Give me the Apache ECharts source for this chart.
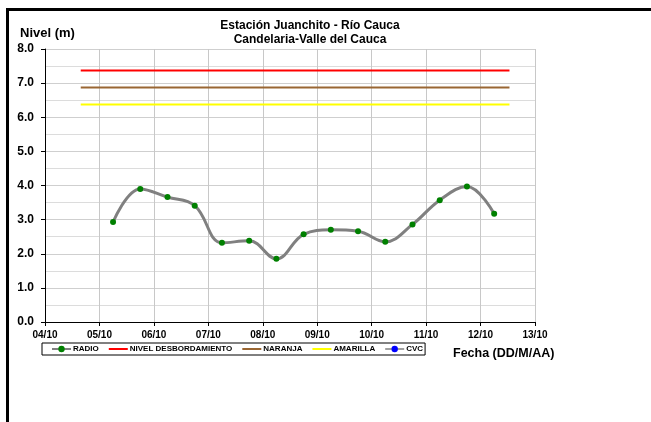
<!DOCTYPE html>
<html>
<head>
<meta charset="utf-8">
<script src="https://cdn.jsdelivr.net/npm/echarts@6/dist/echarts.min.js"></script>
<style>html,body{margin:0;padding:0;background:#fff;}#c{width:651px;height:422px;}</style>
</head>
<body>
<div id="c"></div>
<script>
// ---- data ----
var xTickLabels = ['04/10','05/10','06/10','07/10','08/10','09/10','10/10','11/10','12/10','13/10'];
var radioTimes = ['05/10 06:00','05/10 18:00','06/10 06:00','06/10 18:00','07/10 06:00','07/10 18:00','08/10 06:00','08/10 18:00','09/10 06:00','09/10 18:00','10/10 06:00','10/10 18:00','11/10 06:00','11/10 18:00','12/10 06:00'];
var radioValues = [2.93, 3.90, 3.66, 3.41, 2.32, 2.38, 1.85, 2.57, 2.70, 2.66, 2.35, 2.86, 3.57, 3.97, 3.17];
var thresholdTimes = ['04/10 15:45', '12/10 12:45'];
var nivelDesbordamiento = [7.37, 7.37];
var naranja = [6.87, 6.87];
var amarilla = [6.37, 6.37];
var cvcTimes = [];
var cvcValues = [];

// convert "DD/MM HH:MM" to days since first tick label
function dayOffset(s) {
  var p = s.split(' ');
  var d = p[0].split('/');
  var t = (p[1] || '00:00').split(':');
  var base = parseInt(xTickLabels[0].split('/')[0], 10);
  return parseInt(d[0], 10) - base + (parseInt(t[0], 10) + parseInt(t[1], 10) / 60) / 24;
}
function pairs(times, vals) {
  return times.map(function (t, i) { return [dayOffset(t), vals[i]]; });
}

var FONT = 'Liberation Sans, Arial, sans-serif';
var noDot = {opacity: 0};
var chart = echarts.init(document.getElementById('c'), null, {renderer: 'canvas'});
chart.setOption({
  animation: false,
  backgroundColor: '#fff',
  title: [
    {text: 'Estación Juanchito - Río Cauca\nCandelaria-Valle del Cauca', left: 305, top: 14, textAlign: 'center',
     textStyle: {fontFamily: FONT, fontSize: 12, fontWeight: 'bold', color: '#000', lineHeight: 14}},
    {text: 'Nivel (m)', left: 15, top: 22, textStyle: {fontFamily: FONT, fontSize: 13, fontWeight: 'bold', color: '#000'}},
    {text: 'Fecha (DD/M/AA)', left: 448, top: 342, textStyle: {fontFamily: FONT, fontSize: 12.5, fontWeight: 'bold', color: '#000'}}
  ],
  grid: {left: 45, right: 116, top: 49, bottom: 100, containLabel: false},
  legend: {
    left: 42, top: 343, width: 390, height: 10,
    padding: [2, 2, 2, 9],
    itemGap: 9, itemWidth: 19, itemHeight: 8,
    borderColor: '#000', borderWidth: 1,
    textStyle: {fontFamily: FONT, fontSize: 8, fontWeight: 'bold', color: '#000', padding: [0, 0, 0, -3]},
    data: [
      {name: 'RADIO'},
      {name: 'NIVEL DESBORDAMIENTO', itemStyle: noDot},
      {name: 'NARANJA', itemStyle: noDot},
      {name: 'AMARILLA', itemStyle: noDot},
      {name: 'CVC'}
    ]
  },
  xAxis: {
    type: 'value', min: 0, max: 9, interval: 1,
    axisLine: {show: true, onZero: false, lineStyle: {color: '#000', width: 1}},
    axisTick: {show: true, length: 4, lineStyle: {color: '#000'}},
    axisLabel: {margin: 8, fontFamily: FONT, fontSize: 10, fontWeight: 'bold', color: '#000',
      formatter: function (v) { return xTickLabels[Math.round(v)] || ''; }},
    splitLine: {show: true, lineStyle: {color: '#c8c8c8', width: 1}}
  },
  yAxis: {
    type: 'value', min: 0, max: 8, interval: 1,
    axisLine: {show: true, lineStyle: {color: '#000', width: 1}},
    axisTick: {show: true, length: 4, inside: false, lineStyle: {color: '#000'}},
    axisLabel: {margin: 11, fontFamily: FONT, fontSize: 12, fontWeight: 'bold', color: '#000',
      formatter: function (v) { return v.toFixed(1); }},
    splitLine: {show: true, lineStyle: {color: '#cfcfcf', width: 1}},
    minorTick: {show: false, splitNumber: 2},
    minorSplitLine: {show: true, lineStyle: {color: '#dcdcdc', width: 1}}
  },
  series: [
    {name: 'RADIO', type: 'line', smooth: 0.4, data: pairs(radioTimes, radioValues),
     symbol: 'circle', symbolSize: 6, z: 5,
     lineStyle: {color: '#808080', width: 3}, itemStyle: {color: '#008000'}},
    {name: 'NIVEL DESBORDAMIENTO', type: 'line', data: pairs(thresholdTimes, nivelDesbordamiento),
     symbol: 'none', lineStyle: {color: '#ff0000', width: 2}, itemStyle: {color: '#ff0000'}},
    {name: 'NARANJA', type: 'line', data: pairs(thresholdTimes, naranja),
     symbol: 'none', lineStyle: {color: '#996633', width: 2}, itemStyle: {color: '#996633'}},
    {name: 'AMARILLA', type: 'line', data: pairs(thresholdTimes, amarilla),
     symbol: 'none', lineStyle: {color: '#ffff00', width: 2}, itemStyle: {color: '#ffff00'}},
    {name: 'CVC', type: 'line', data: pairs(cvcTimes, cvcValues),
     symbol: 'circle', symbolSize: 5, lineStyle: {color: '#a0a0a0', width: 2}, itemStyle: {color: '#0000ff'}}
  ],
  graphic: [
    {type: 'line', shape: {x1: 7.5, y1: 8, x2: 7.5, y2: 422}, style: {stroke: '#000', lineWidth: 3}},
    {type: 'line', shape: {x1: 6, y1: 9.5, x2: 651, y2: 9.5}, style: {stroke: '#000', lineWidth: 3}}
  ]
});
</script>
</body>
</html>
